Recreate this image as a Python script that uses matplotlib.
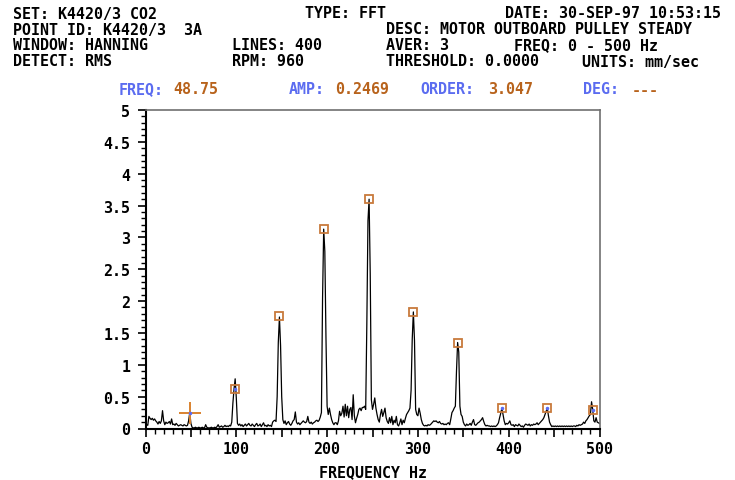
import numpy as np
import matplotlib
matplotlib.use("Agg")
import matplotlib.pyplot as plt
from matplotlib.ticker import MultipleLocator, FuncFormatter

# spectrum: 400 lines, 0 - 500 Hz, one row = 10 Hz (8 bins)
amp = [
    0.04, 0.06, 0.05, 0.19, 0.16, 0.14, 0.16, 0.13,   # 0
    0.15, 0.12, 0.10, 0.07, 0.11, 0.08, 0.12, 0.28,   # 10
    0.12, 0.06, 0.10, 0.08, 0.09, 0.11, 0.07, 0.15,   # 20
    0.06, 0.07, 0.05, 0.08, 0.06, 0.04, 0.05, 0.06,   # 30
    0.05, 0.04, 0.06, 0.05, 0.04, 0.05, 0.12, 0.25,   # 40
    0.08, 0.02, 0.01, 0.01, 0.02, 0.01, 0.01, 0.02,   # 50
    0.01, 0.01, 0.02, 0.01, 0.01, 0.06, 0.02, 0.01,   # 60
    0.01, 0.01, 0.02, 0.01, 0.01, 0.02, 0.01, 0.03,   # 70
    0.06, 0.02, 0.03, 0.04, 0.02, 0.03, 0.05, 0.03,   # 80
    0.04, 0.03, 0.05, 0.04, 0.10, 0.40, 0.62, 0.78,   # 90
    0.48, 0.08, 0.05, 0.07, 0.04, 0.06, 0.03, 0.05,   # 100
    0.07, 0.04, 0.06, 0.08, 0.05, 0.04, 0.07, 0.05,   # 110
    0.03, 0.06, 0.08, 0.04, 0.05, 0.07, 0.03, 0.06,   # 120
    0.09, 0.04, 0.05, 0.03, 0.06, 0.04, 0.05, 0.03,   # 130
    0.10, 0.12, 0.13, 0.11, 0.50, 1.35, 1.75, 1.30,   # 140
    0.50, 0.14, 0.08, 0.12, 0.06, 0.09, 0.11, 0.07,   # 150
    0.05, 0.08, 0.12, 0.14, 0.26, 0.10, 0.07, 0.09,   # 160
    0.06, 0.08, 0.10, 0.12, 0.10, 0.09, 0.11, 0.19,   # 170
    0.10, 0.08, 0.10, 0.07, 0.09, 0.10, 0.12, 0.13,   # 180
    0.11, 0.13, 0.18, 0.25, 2.05, 3.13, 2.78, 1.43,   # 190
    0.35, 0.22, 0.32, 0.22, 0.14, 0.09, 0.06, 0.09,   # 200
    0.09, 0.06, 0.12, 0.27, 0.20, 0.24, 0.35, 0.18,   # 210
    0.38, 0.20, 0.35, 0.17, 0.30, 0.33, 0.14, 0.53,   # 220
    0.20, 0.09, 0.16, 0.22, 0.30, 0.32, 0.28, 0.33,   # 230
    0.33, 0.35, 0.30, 1.63, 3.26, 3.60, 2.43, 0.45,   # 240
    0.30, 0.38, 0.48, 0.32, 0.22, 0.14, 0.10, 0.22,   # 250
    0.30, 0.19, 0.25, 0.32, 0.17, 0.11, 0.08, 0.17,   # 260
    0.09, 0.19, 0.06, 0.13, 0.09, 0.19, 0.06, 0.04,   # 270
    0.09, 0.15, 0.06, 0.13, 0.09, 0.16, 0.22, 0.25,   # 280
    0.28, 0.32, 0.60, 1.40, 1.83, 1.38, 0.30, 0.22,   # 290
    0.20, 0.32, 0.24, 0.14, 0.08, 0.05, 0.04, 0.05,   # 300
    0.04, 0.06, 0.05, 0.06, 0.08, 0.10, 0.12, 0.11,   # 310
    0.12, 0.10, 0.09, 0.11, 0.08, 0.07, 0.08, 0.06,   # 320
    0.07, 0.06, 0.08, 0.09, 0.06, 0.15, 0.25, 0.28,   # 330
    0.32, 0.35, 0.90, 1.35, 1.20, 0.35, 0.22, 0.19,   # 340
    0.10, 0.06, 0.04, 0.07, 0.05, 0.06, 0.08, 0.05,   # 350
    0.10, 0.14, 0.06, 0.05, 0.07, 0.09, 0.10, 0.12,   # 360
    0.14, 0.17, 0.11, 0.06, 0.04, 0.05, 0.04, 0.04,   # 370
    0.03, 0.04, 0.03, 0.04, 0.03, 0.04, 0.06, 0.09,   # 380
    0.17, 0.24, 0.32, 0.22, 0.12, 0.06, 0.08, 0.07,   # 390
    0.09, 0.12, 0.06, 0.05, 0.06, 0.03, 0.06, 0.05,   # 400
    0.04, 0.07, 0.05, 0.03, 0.04, 0.02, 0.05, 0.07,   # 410
    0.06, 0.05, 0.07, 0.04, 0.06, 0.05, 0.07, 0.06,   # 420
    0.07, 0.09, 0.06, 0.08, 0.10, 0.12, 0.14, 0.17,   # 430
    0.22, 0.27, 0.32, 0.20, 0.10, 0.06, 0.03, 0.04,   # 440
    0.03, 0.04, 0.03, 0.04, 0.03, 0.04, 0.03, 0.04,   # 450
    0.03, 0.04, 0.03, 0.04, 0.03, 0.04, 0.03, 0.04,   # 460
    0.03, 0.04, 0.04, 0.03, 0.05, 0.04, 0.06, 0.05,   # 470
    0.06, 0.07, 0.10, 0.08, 0.12, 0.14, 0.17, 0.20,   # 480
    0.22, 0.42, 0.30, 0.12, 0.10, 0.17, 0.10, 0.09,   # 490
    0.08,
]
freq = np.linspace(0, 500, len(amp))

# harmonic markers and cursor
harm_freq = [98.75, 147.5, 196.25, 246.25, 295.0, 343.75, 392.5, 442.5, 492.5]
harm_amp = [0.62, 1.77, 3.13, 3.60, 1.83, 1.35, 0.32, 0.32, 0.29]
cursor_freq = 48.75
cursor_amp = 0.2469

y_ticks = [0, 0.5, 1, 1.5, 2, 2.5, 3, 3.5, 4, 4.5, 5]

header = [
    ("SET: K4420/3 CO2", 13, 14), ("TYPE: FFT", 305, 14), ("DATE: 30-SEP-97 10:53:15", 505, 14),
    ("POINT ID: K4420/3  3A", 13, 30), ("DESC: MOTOR OUTBOARD PULLEY STEADY", 386, 30),
    ("WINDOW: HANNING", 13, 46), ("LINES: 400", 232, 46), ("AVER: 3", 386, 46),
    ("FREQ: 0 - 500 Hz", 514, 46),
    ("DETECT: RMS", 13, 62), ("RPM: 960", 232, 62), ("THRESHOLD: 0.0000", 386, 62),
    ("UNITS: mm/sec", 582, 62),
]
cursor_labels = [("FREQ:", 119), ("AMP:", 289), ("ORDER:", 420), ("DEG:", 583)]
cursor_values = [("48.75", 173), ("0.2469", 335), ("3.047", 488), ("---", 632)]

BLUE = "#5b6cf0"
ORANGE = "#b8631c"
W, H = 735, 481
font = dict(family="DejaVu Sans Mono", weight="bold", size=10.8)

fig = plt.figure(figsize=(W / 100, H / 100), dpi=100)
ax = fig.add_axes([145.5 / W, 1 - 429.5 / H, 454 / W, 318.5 / H])

for txt, x, y in header:
    fig.text(x / W, 1 - y / H, txt, va="center", ha="left", color="black", **font)
for txt, x in cursor_labels:
    fig.text(x / W, 1 - 90 / H, txt, va="center", ha="left", color=BLUE, **font)
for txt, x in cursor_values:
    fig.text(x / W, 1 - 90 / H, txt, va="center", ha="left", color=ORANGE, **font)

ax.plot(freq, amp, color="black", lw=0.9)
ax.plot(harm_freq, harm_amp, "s", mfc="none", mec="#c87a3c", ms=5.5, mew=1.3)
small = [(f, a) for f, a in zip(harm_freq, harm_amp) if a < 1]
ax.plot([s[0] for s in small], [s[1] for s in small], ".", color=BLUE, ms=3)
ax.plot(cursor_freq, cursor_amp, "+", color="#d9822f", ms=16, mew=1.4)
ax.plot(cursor_freq, cursor_amp, ".", color=BLUE, ms=3)

ax.set_xlim(0, 500)
ax.set_ylim(0, 5)
ax.xaxis.set_major_locator(MultipleLocator(50))
ax.xaxis.set_minor_locator(MultipleLocator(10))
ax.xaxis.set_major_formatter(FuncFormatter(lambda v, p: f"{int(v)}" if v % 100 == 0 else ""))
ax.set_yticks(y_ticks)
ax.set_yticklabels([f"{t:g}" for t in y_ticks])
ax.yaxis.set_minor_locator(MultipleLocator(0.1))
ax.tick_params(axis="both", which="major", direction="out", length=6, width=1.2, pad=3)
ax.tick_params(axis="both", which="minor", direction="out", length=3.5, width=1.0)
ax.tick_params(axis="y", which="major", pad=5)
for lab in ax.get_xticklabels() + ax.get_yticklabels():
    lab.set_fontfamily("DejaVu Sans Mono")
    lab.set_fontweight("bold")
    lab.set_fontsize(10.8)

for s in ("left", "bottom"):
    ax.spines[s].set_color("black")
    ax.spines[s].set_linewidth(1.5)
for s in ("top", "right"):
    ax.spines[s].set_color("#707070")
    ax.spines[s].set_linewidth(1.2)

ax.set_xlabel("FREQUENCY Hz", labelpad=6, **font)

fig.savefig("out.png", dpi=100)
